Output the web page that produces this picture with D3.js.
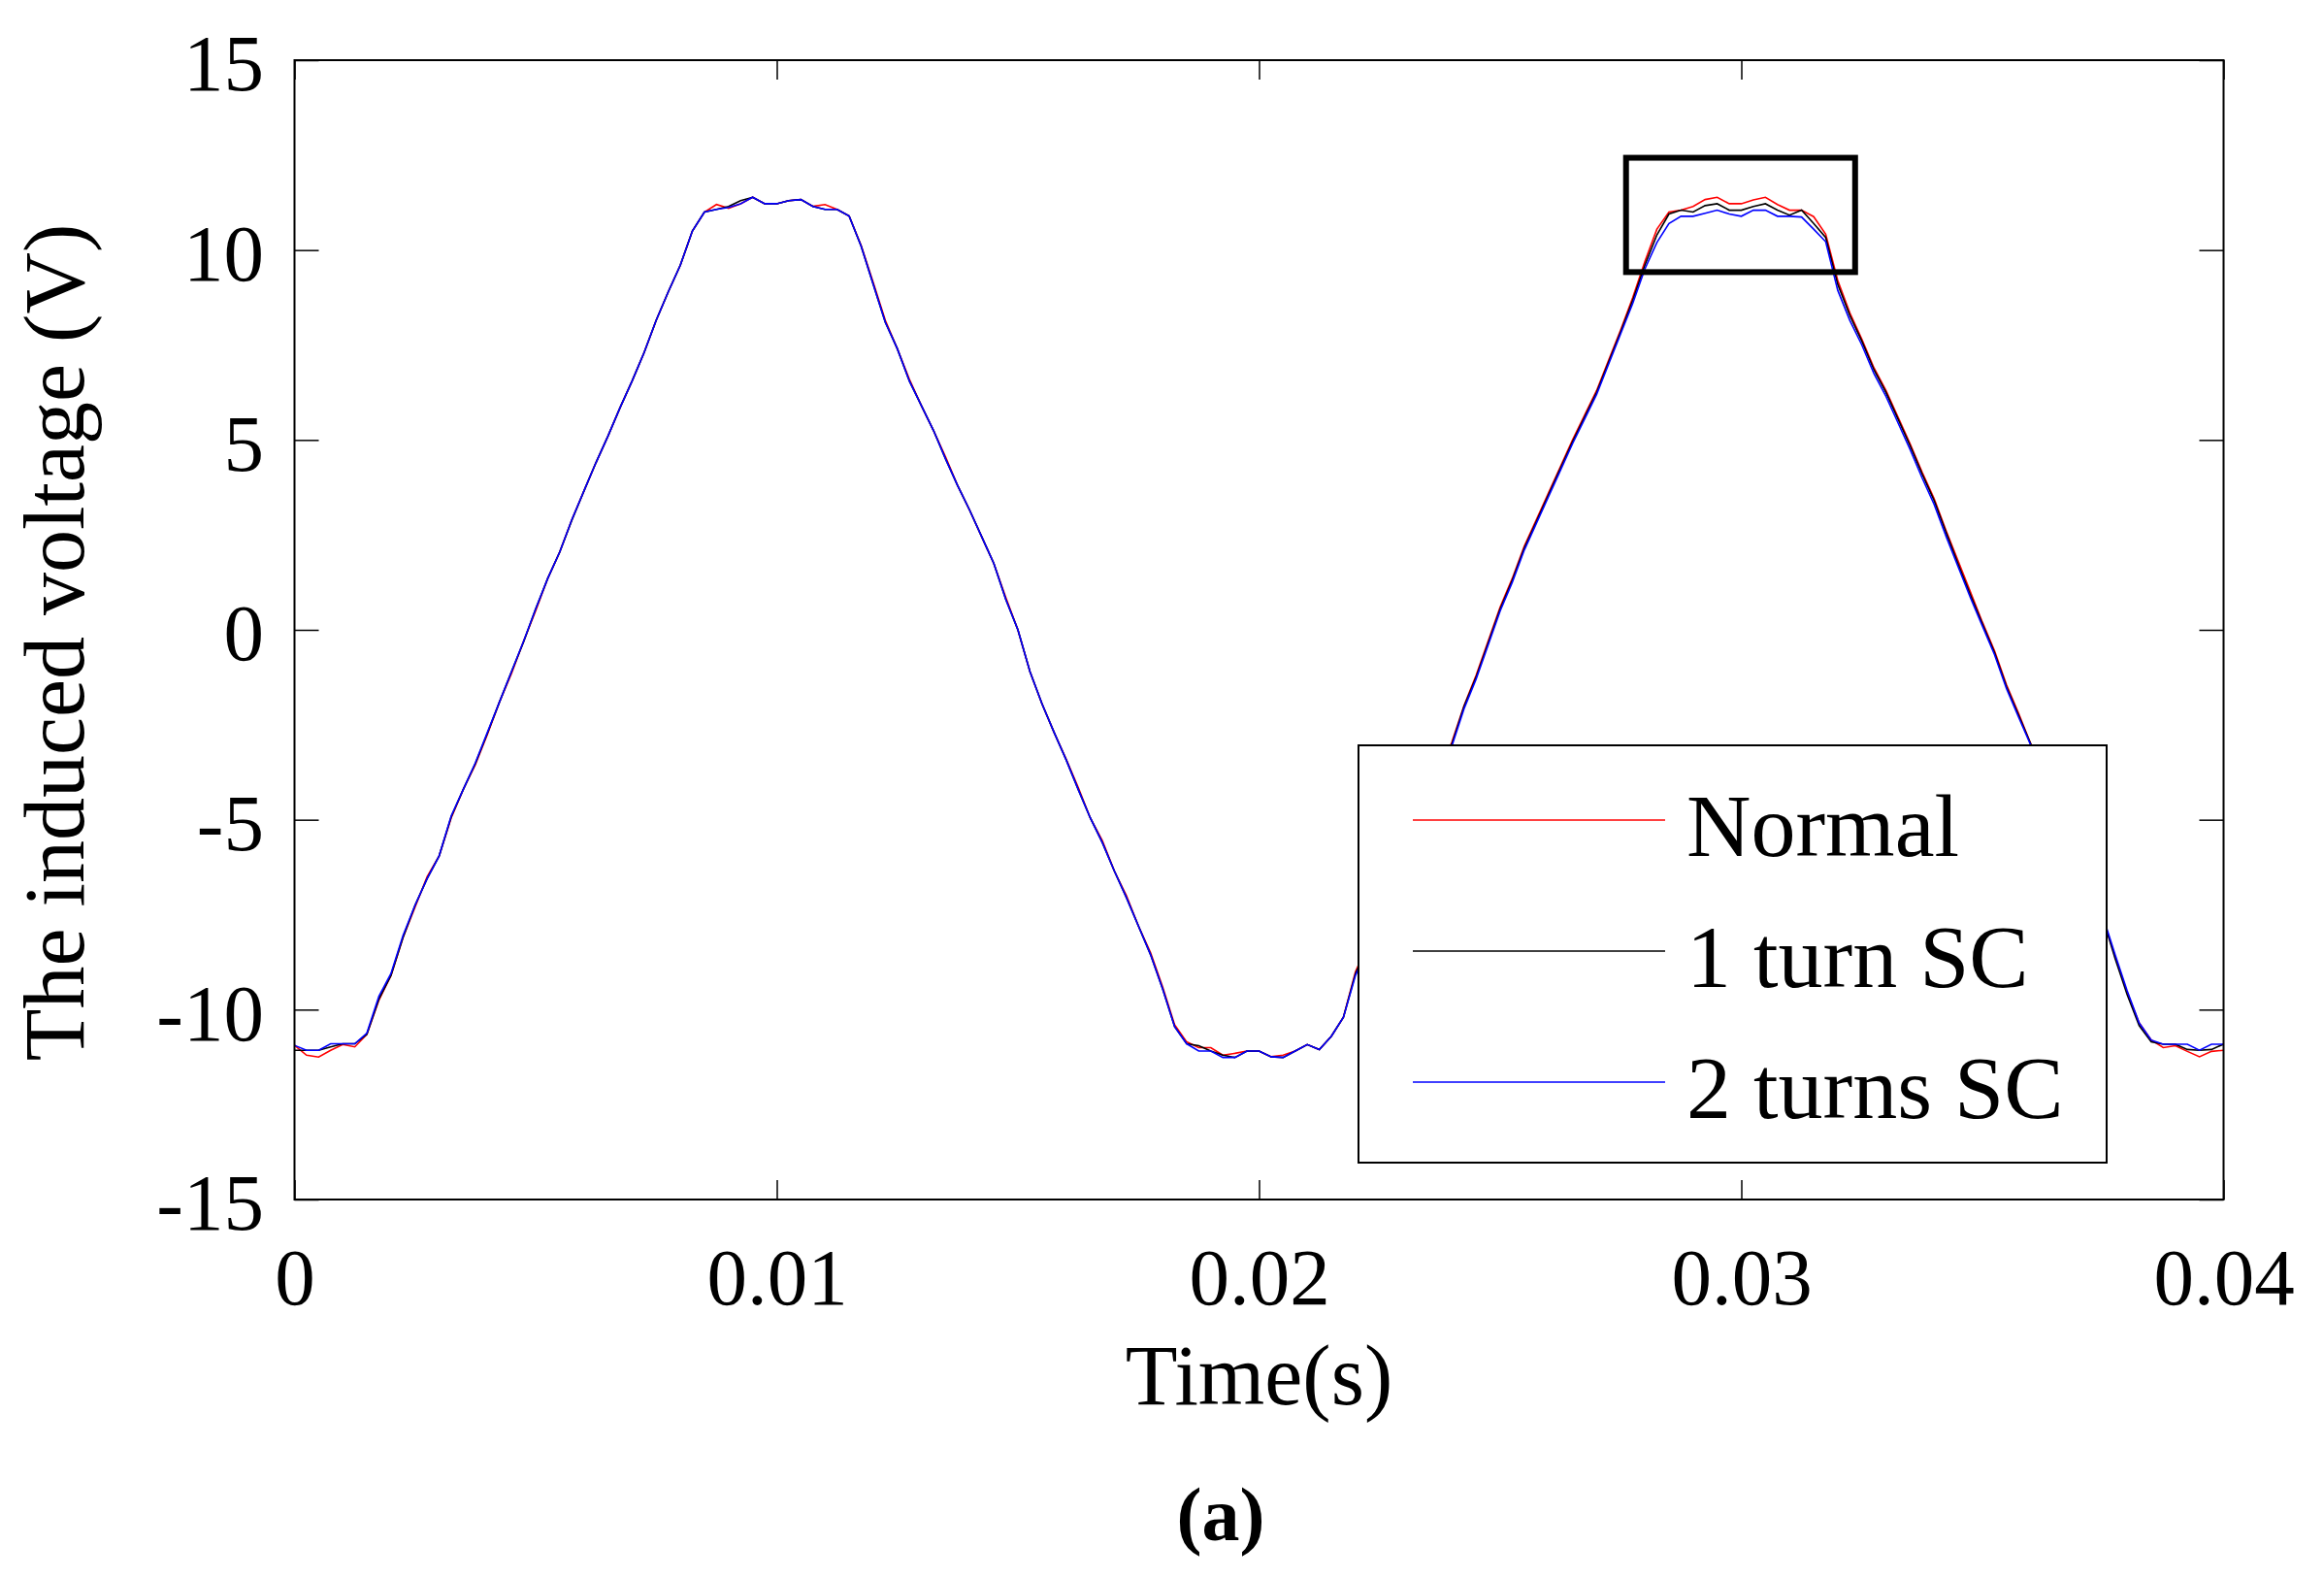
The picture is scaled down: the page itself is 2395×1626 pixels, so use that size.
<!DOCTYPE html>
<html lang="en">
<head>
<meta charset="utf-8">
<title>The induced voltage</title>
<script src="https://d3js.org/d3.v7.min.js"></script>
<style>
body { margin: 0; background: #fff; }
text { font-family: "Liberation Serif", "Times New Roman", serif; fill: #000; }
.tick line { stroke: #000; stroke-width: 1.5; }
.domain { display: none; }
</style>
</head>
<body>
<div id="chart"></div>
<script>
"use strict";

// sample times in ms, one row = 2 ms
const timeMs = [
  0, 0.25, 0.5, 0.75, 1, 1.25, 1.5, 1.75,
  2, 2.25, 2.5, 2.75, 3, 3.25, 3.5, 3.75,
  4, 4.25, 4.5, 4.75, 5, 5.25, 5.5, 5.75,
  6, 6.25, 6.5, 6.75, 7, 7.25, 7.5, 7.75,
  8, 8.25, 8.5, 8.75, 9, 9.25, 9.5, 9.75,
  10, 10.25, 10.5, 10.75, 11, 11.25, 11.5, 11.75,
  12, 12.25, 12.5, 12.75, 13, 13.25, 13.5, 13.75,
  14, 14.25, 14.5, 14.75, 15, 15.25, 15.5, 15.75,
  16, 16.25, 16.5, 16.75, 17, 17.25, 17.5, 17.75,
  18, 18.25, 18.5, 18.75, 19, 19.25, 19.5, 19.75,
  20, 20.25, 20.5, 20.75, 21, 21.25, 21.5, 21.75,
  22, 22.25, 22.5, 22.75, 23, 23.25, 23.5, 23.75,
  24, 24.25, 24.5, 24.75, 25, 25.25, 25.5, 25.75,
  26, 26.25, 26.5, 26.75, 27, 27.25, 27.5, 27.75,
  28, 28.25, 28.5, 28.75, 29, 29.25, 29.5, 29.75,
  30, 30.25, 30.5, 30.75, 31, 31.25, 31.5, 31.75,
  32, 32.25, 32.5, 32.75, 33, 33.25, 33.5, 33.75,
  34, 34.25, 34.5, 34.75, 35, 35.25, 35.5, 35.75,
  36, 36.25, 36.5, 36.75, 37, 37.25, 37.5, 37.75,
  38, 38.25, 38.5, 38.75, 39, 39.25, 39.5, 39.75,
  40
];

const normal = [
  -10.94, -11.2, -11.25, -11.07, -10.92, -10.98, -10.65, -9.75,
  -9.1, -8.1, -7.3, -6.5, -5.95, -4.95, -4.2, -3.55,
  -2.75, -1.9, -1.15, -0.3, 0.5, 1.35, 2.05, 2.9,
  3.65, 4.4, 5.1, 5.85, 6.55, 7.3, 8.15, 8.9,
  9.6, 10.5, 11.0, 11.2, 11.1, 11.22, 11.39, 11.22,
  11.22, 11.3, 11.33, 11.15, 11.2, 11.07, 10.9, 10.12,
  9.15, 8.15, 7.4, 6.6, 5.9, 5.25, 4.55, 3.8,
  3.15, 2.45, 1.75, 0.85, 0.0, -1.1, -1.95, -2.7,
  -3.4, -4.15, -4.95, -5.55, -6.35, -7.0, -7.8, -8.5,
  -9.4, -10.4, -10.85, -11.0, -11.0, -11.2, -11.15, -11.09,
  -11.09, -11.24, -11.2, -11.09, -10.92, -11.05, -10.7, -10.2,
  -9.0, -8.3, -7.5, -6.75, -6.0, -5.2, -4.45, -3.7,
  -2.95, -2.0, -1.2, -0.3, 0.6, 1.35, 2.2, 2.9,
  3.6, 4.3, 5.0, 5.65, 6.3, 7.1, 7.9, 8.75,
  9.7, 10.55, 11.0, 11.05, 11.15, 11.33, 11.39, 11.22,
  11.22, 11.32, 11.39, 11.2, 11.05, 11.05, 10.88, 10.42,
  9.2, 8.35, 7.65, 6.9, 6.3, 5.6, 4.9, 4.15,
  3.45, 2.6, 1.8, 1.0, 0.2, -0.55, -1.45, -2.2,
  -3.0, -3.8, -4.55, -5.3, -6.05, -6.8, -7.6, -8.6,
  -9.55, -10.35, -10.8, -11.0, -10.95, -11.1, -11.24, -11.1,
  -11.07
];

const oneTurnSC = [
  -11.07, -11.07, -11.07, -10.98, -10.9, -10.9, -10.65, -9.72,
  -9.1, -8.1, -7.25, -6.55, -5.95, -4.92, -4.2, -3.52,
  -2.72, -1.9, -1.1, -0.32, 0.55, 1.35, 2.05, 2.88,
  3.65, 4.4, 5.1, 5.85, 6.55, 7.3, 8.15, 8.9,
  9.6, 10.5, 11.0, 11.07, 11.15, 11.3, 11.39, 11.22,
  11.22, 11.3, 11.33, 11.15, 11.07, 11.07, 10.9, 10.1,
  9.1, 8.1, 7.4, 6.55, 5.9, 5.25, 4.5, 3.8,
  3.15, 2.45, 1.75, 0.8, 0.0, -1.1, -1.95, -2.7,
  -3.42, -4.2, -4.95, -5.6, -6.35, -7.05, -7.8, -8.55,
  -9.45, -10.45, -10.9, -10.95, -11.09, -11.2, -11.26, -11.09,
  -11.09, -11.24, -11.26, -11.09, -10.92, -11.05, -10.7, -10.2,
  -9.05, -8.35, -7.55, -6.8, -6.05, -5.25, -4.5, -3.75,
  -3.0, -2.02, -1.25, -0.35, 0.55, 1.3, 2.15, 2.85,
  3.55, 4.25, 4.95, 5.6, 6.25, 7.05, 7.85, 8.68,
  9.6, 10.4, 10.95, 11.05, 11.0, 11.17, 11.22, 11.05,
  11.05, 11.15, 11.22, 11.05, 10.92, 11.05, 10.7, 10.33,
  9.1, 8.28, 7.6, 6.85, 6.25, 5.55, 4.85, 4.1,
  3.4, 2.55, 1.72, 0.92, 0.15, -0.6, -1.5, -2.25,
  -3.0, -3.78, -4.52, -5.28, -6.02, -6.78, -7.6, -8.65,
  -9.6, -10.42, -10.85, -10.91, -10.91, -11.05, -11.07, -11.05,
  -10.91
];

const twoTurnsSC = [
  -10.94, -11.07, -11.07, -10.9, -10.9, -10.9, -10.62, -9.65,
  -9.05, -8.05, -7.25, -6.55, -5.95, -4.9, -4.2, -3.5,
  -2.7, -1.9, -1.1, -0.3, 0.55, 1.35, 2.05, 2.9,
  3.65, 4.4, 5.1, 5.85, 6.55, 7.3, 8.15, 8.9,
  9.6, 10.5, 11.0, 11.07, 11.12, 11.22, 11.39, 11.22,
  11.22, 11.3, 11.33, 11.15, 11.07, 11.07, 10.9, 10.1,
  9.1, 8.1, 7.4, 6.55, 5.9, 5.25, 4.5, 3.8,
  3.15, 2.45, 1.75, 0.8, 0.0, -1.1, -1.95, -2.7,
  -3.42, -4.2, -4.95, -5.6, -6.35, -7.05, -7.8, -8.55,
  -9.45, -10.45, -10.9, -11.09, -11.09, -11.26, -11.26, -11.09,
  -11.09, -11.24, -11.26, -11.09, -10.92, -11.05, -10.7, -10.2,
  -9.1, -8.4, -7.6, -6.85, -6.1, -5.3, -4.55, -3.8,
  -3.05, -2.08, -1.3, -0.4, 0.5, 1.25, 2.1, 2.8,
  3.5, 4.2, 4.9, 5.55, 6.2, 7.0, 7.8, 8.6,
  9.5, 10.2, 10.7, 10.89, 10.89, 10.97, 11.05, 10.95,
  10.89, 11.05, 11.05, 10.89, 10.89, 10.87, 10.55, 10.22,
  8.94, 8.15, 7.5, 6.75, 6.15, 5.45, 4.75, 4.0,
  3.3, 2.45, 1.65, 0.85, 0.1, -0.65, -1.55, -2.3,
  -3.03, -3.8, -4.55, -5.3, -6.05, -6.8, -7.55, -8.55,
  -9.5, -10.35, -10.8, -10.91, -10.91, -10.91, -11.07, -10.91,
  -10.91
];

const seriesNames = ["Normal", "1 turn SC", "2 turns SC"];
const seriesColors = ["#ff0000", "#000000", "#0000ff"];
const xTicks = [0, 0.01, 0.02, 0.03, 0.04];
const yTicks = [-15, -10, -5, 0, 5, 10, 15];
// highlighted region on the second peak (time in s, voltage in V)
const zoomTime = [0.02761, 0.03236];
const zoomVolt = [9.42, 12.43];

const W = 2395, H = 1626;
const svg = d3.select("#chart").append("svg")
  .attr("width", W)
  .attr("height", H);

const x = d3.scaleLinear().domain([0, 0.04]).range([303.5, 2291.5]);
const y = d3.scaleLinear().domain([-15, 15]).range([1236, 62]);

// axes, ticks pointing inwards on all four sides
svg.append("g")
  .attr("transform", "translate(0," + y(-15) + ")")
  .call(d3.axisBottom(x).tickValues(xTicks).tickSize(-20).tickSizeOuter(0)
    .tickPadding(49).tickFormat(d => String(d)))
  .attr("font-size", 83)
  .attr("font-family", null);

svg.append("g")
  .attr("transform", "translate(0," + y(15) + ")")
  .call(d3.axisTop(x).tickValues(xTicks).tickSize(-20).tickSizeOuter(0).tickFormat(() => ""));

svg.append("g")
  .attr("transform", "translate(" + x(0) + ",0)")
  .call(d3.axisLeft(y).tickValues(yTicks).tickSize(-25).tickSizeOuter(0)
    .tickPadding(31.5).tickFormat(d => String(d)))
  .attr("font-size", 83)
  .attr("font-family", null)
  .call(g => g.selectAll("text").attr("dy", "0.37em"));

svg.append("g")
  .attr("transform", "translate(" + x(0.04) + ",0)")
  .call(d3.axisRight(y).tickValues(yTicks).tickSize(-25).tickSizeOuter(0).tickFormat(() => ""));

// curves
const line = d3.line()
  .x((d, i) => x(timeMs[i] / 1000))
  .y(d => y(d));

[normal, oneTurnSC, twoTurnsSC].forEach((serie, i) => {
  svg.append("path")
    .datum(serie)
    .attr("d", line)
    .attr("fill", "none")
    .attr("stroke", seriesColors[i])
    .attr("stroke-width", 1.6)
    .attr("stroke-linejoin", "miter");
});

// plot box
svg.append("rect")
  .attr("x", x(0)).attr("y", y(15))
  .attr("width", x(0.04) - x(0)).attr("height", y(-15) - y(15))
  .attr("fill", "none").attr("stroke", "#000").attr("stroke-width", 2);

// highlight rectangle
svg.append("rect")
  .attr("x", x(zoomTime[0])).attr("y", y(zoomVolt[1]))
  .attr("width", x(zoomTime[1]) - x(zoomTime[0]))
  .attr("height", y(zoomVolt[0]) - y(zoomVolt[1]))
  .attr("fill", "none").attr("stroke", "#000").attr("stroke-width", 6);

// legend
const legend = svg.append("g");
legend.append("rect")
  .attr("x", 1400).attr("y", 768).attr("width", 771).attr("height", 430)
  .attr("fill", "#fff").attr("stroke", "#000").attr("stroke-width", 2);

seriesNames.forEach((name, i) => {
  const ly = 845 + i * 135;
  legend.append("line")
    .attr("x1", 1456).attr("x2", 1716).attr("y1", ly).attr("y2", ly)
    .attr("stroke", seriesColors[i]).attr("stroke-width", 1.6);
  legend.append("text")
    .attr("x", 1738).attr("y", ly + 37)
    .attr("font-size", 92)
    .text(name);
});

// labels
svg.append("text")
  .attr("x", (x(0) + x(0.04)) / 2).attr("y", 1447)
  .attr("text-anchor", "middle").attr("font-size", 88)
  .text("Time(s)");

svg.append("text")
  .attr("transform", "translate(86,662) rotate(-90)")
  .attr("text-anchor", "middle").attr("font-size", 88)
  .text("The induced voltage (V)");

svg.append("text")
  .attr("x", 1258).attr("y", 1587)
  .attr("text-anchor", "middle").attr("font-size", 78)
  .attr("font-weight", "bold")
  .text("(a)");
</script>
</body>
</html>
